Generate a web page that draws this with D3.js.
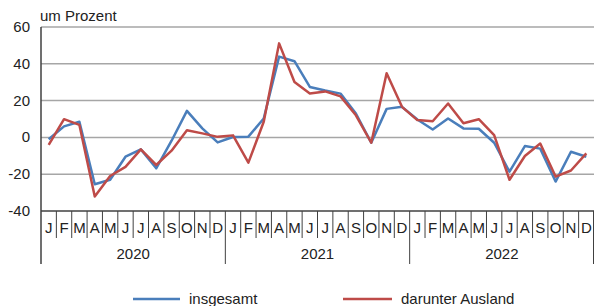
<!DOCTYPE html>
<html lang="de">
    <head>
        <meta charset="utf-8">
        <title>Chart</title>
        <script src="https://d3js.org/d3.v7.min.js"></script>
        <style>
            body { margin: 0; background: #fff; }
            text { font-family: "Liberation Sans", Arial, sans-serif; fill: #222; font-size: 15px; }
        </style>
    </head>
    <body>
        <script type="text/javascript">
            const BLUE = '#4a7ebb';
            const RED = '#be4b48';
            const GRID = '#a6a6a6';
            const AXIS = '#404040';

            var years = ['2020', '2021', '2022'];
            var monthLetters = ['J', 'F', 'M', 'A', 'M', 'J', 'J', 'A', 'S', 'O', 'N', 'D'];
            var yTicks = [-40, -20, 0, 20, 40, 60];

            var insgesamt = [
                -1, 6, 8.5, -25.5, -23, -10.5, -6.5, -16.8, -1.8, 14.4, 4.9, -2.7,
                0.2, 0.4, 10.3, 43.9, 41.4, 27.4, 25.5, 23.8, 13, -2.9, 15.5, 16.6,
                9.7, 4.3, 10.3, 4.9, 4.7, -2.9, -18.6, -4.7, -6.1, -24, -7.8, -10.5
            ];
            var ausland = [
                -4.1, 9.9, 6.8, -32.1, -21, -16, -6.5, -15, -7.2, 3.9, 2.2, 0.3,
                1.1, -13.7, 8.5, 51.1, 30.1, 23.8, 25, 22.3, 12, -2.9, 34.9, 16.6,
                9.4, 8.8, 18.4, 7.7, 9.9, 1.2, -23, -10.1, -3.3, -21.3, -18, -8.7
            ];

            var width = 595,
                height = 306,
                plotLeft = 41,
                plotRight = 594,
                plotTop = 27,
                plotBottom = 211;

            var months = [];
            years.forEach(function(yr) {
                monthLetters.forEach(function(m, i) { months.push(yr + '-' + i); });
            });

            var x = d3.scaleBand()
                .domain(months)
                .range([plotLeft, plotRight]);

            var y = d3.scaleLinear()
                .domain([-40, 60])
                .range([plotBottom, plotTop]);

            var svg = d3.select("body").append("svg")
                .attr("width", width)
                .attr("height", height);

            // gridlines
            svg.append("g")
                .selectAll("line")
                .data(yTicks.filter(function(d) { return d > -40; }))
                .enter().append("line")
                .attr("x1", plotLeft)
                .attr("x2", plotRight)
                .attr("y1", function(d) { return y(d); })
                .attr("y2", function(d) { return y(d); })
                .attr("stroke", GRID)
                .attr("stroke-width", 1.5);

            // y labels
            svg.append("g")
                .selectAll("text")
                .data(yTicks)
                .enter().append("text")
                .attr("x", 30)
                .attr("y", function(d) { return y(d) + 5; })
                .attr("text-anchor", "end")
                .text(function(d) { return d; });

            svg.append("text")
                .attr("x", 40)
                .attr("y", 21)
                .text("um Prozent");

            // axes
            svg.append("line")
                .attr("x1", plotLeft)
                .attr("x2", plotRight)
                .attr("y1", plotBottom)
                .attr("y2", plotBottom)
                .attr("stroke", AXIS)
                .attr("stroke-width", 1.5);

            svg.append("line")
                .attr("x1", plotLeft)
                .attr("x2", plotLeft)
                .attr("y1", plotTop)
                .attr("y2", 264)
                .attr("stroke", AXIS)
                .attr("stroke-width", 1.5);

            // month separators
            svg.append("g")
                .selectAll("line")
                .data(months.slice(1))
                .enter().append("line")
                .attr("x1", function(d) { return x(d); })
                .attr("x2", function(d) { return x(d); })
                .attr("y1", plotBottom)
                .attr("y2", function(d) { return d.slice(-2) === '-0' ? 264 : 238; })
                .attr("stroke", AXIS)
                .attr("stroke-width", 1);

            svg.append("line")
                .attr("x1", plotRight - 0.5)
                .attr("x2", plotRight - 0.5)
                .attr("y1", plotBottom)
                .attr("y2", 264)
                .attr("stroke", AXIS)
                .attr("stroke-width", 1);

            svg.append("g")
                .selectAll("text")
                .data(months)
                .enter().append("text")
                .attr("x", function(d) { return x(d) + x.bandwidth() / 2; })
                .attr("y", 233)
                .attr("text-anchor", "middle")
                .text(function(d) { return monthLetters[+d.split('-')[1]]; });

            svg.append("g")
                .selectAll("text")
                .data(years)
                .enter().append("text")
                .attr("x", function(d) { return (x(d + '-0') + x(d + '-11') + x.bandwidth()) / 2; })
                .attr("y", 259)
                .attr("text-anchor", "middle")
                .text(function(d) { return d; });

            // series
            var line = d3.line()
                .x(function(d, i) { return x(months[i]) + x.bandwidth() / 2; })
                .y(function(d) { return y(d); });

            svg.append("path")
                .datum(insgesamt)
                .attr("d", line)
                .attr("fill", "none")
                .attr("stroke", BLUE)
                .attr("stroke-width", 2.5)
                .attr("stroke-linejoin", "round");

            svg.append("path")
                .datum(ausland)
                .attr("d", line)
                .attr("fill", "none")
                .attr("stroke", RED)
                .attr("stroke-width", 2.5)
                .attr("stroke-linejoin", "round");

            // legend
            var legend = [
                { name: "insgesamt", color: BLUE, x1: 133, x2: 180 },
                { name: "darunter Ausland", color: RED, x1: 343, x2: 392 }
            ];

            legend.forEach(function(l) {
                svg.append("line")
                    .attr("x1", l.x1)
                    .attr("x2", l.x2)
                    .attr("y1", 299)
                    .attr("y2", 299)
                    .attr("stroke", l.color)
                    .attr("stroke-width", 2.5);
                svg.append("text")
                    .attr("x", l.x2 + 9)
                    .attr("y", 304)
                    .text(l.name);
            });
        </script>
    </body>
</html>
